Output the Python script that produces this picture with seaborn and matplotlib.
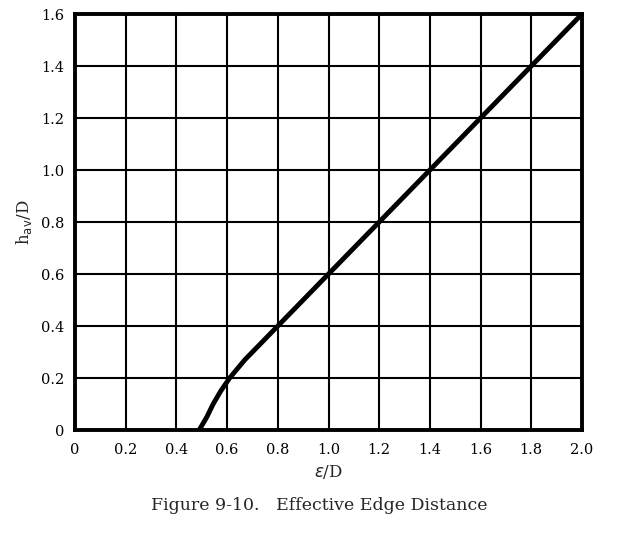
import matplotlib
matplotlib.use("Agg")
import matplotlib.pyplot as plt
import seaborn as sns
import pandas as pd

# Data
e_over_d = [0.49, 0.505, 0.52, 0.545, 0.575, 0.61, 0.64, 0.67, 0.70, 0.80, 1.00, 1.40, 2.00]
hav_over_d = [0.00, 0.025, 0.05, 0.10, 0.15, 0.20, 0.235, 0.27, 0.30, 0.40, 0.60, 1.00, 1.60]

x_ticks = [0, 0.2, 0.4, 0.6, 0.8, 1.0, 1.2, 1.4, 1.6, 1.8, 2.0]
x_tick_labels = ["0", "0.2", "0.4", "0.6", "0.8", "1.0", "1.2", "1.4", "1.6", "1.8", "2.0"]
y_ticks = [0, 0.2, 0.4, 0.6, 0.8, 1.0, 1.2, 1.4, 1.6]
y_tick_labels = ["0", "0.2", "0.4", "0.6", "0.8", "1.0", "1.2", "1.4", "1.6"]

sns.set_style("white")
plt.rcParams["font.family"] = ["DejaVu Serif"]

df = pd.DataFrame({"e": e_over_d, "h": hav_over_d})

fig = plt.figure(figsize=(6.29, 5.37), dpi=100)
ax = fig.add_axes([75/629, 1 - 430/537, (582-75)/629, (430-14)/537])

sns.lineplot(data=df, x="e", y="h", ax=ax, color="black", linewidth=3.5,
             sort=False, estimator=None, zorder=5)

ax.set_xlim(0, 2.0)
ax.set_ylim(0, 1.6)
ax.set_xticks(x_ticks)
ax.set_xticklabels(x_tick_labels)
ax.set_yticks(y_ticks)
ax.set_yticklabels(y_tick_labels)
ax.grid(True, color="black", linewidth=1.5)
ax.set_axisbelow(True)
for s in ax.spines.values():
    s.set_visible(True)
    s.set_color("black")
    s.set_linewidth(2.8)
ax.tick_params(axis="both", length=0, labelsize=10.5, colors="black")
ax.tick_params(axis="x", pad=9)
ax.tick_params(axis="y", pad=8)

ax.set_xlabel(r"$\epsilon$/D", fontsize=12, labelpad=5)
ax.set_ylabel(r"h$_{\mathrm{av}}$/D", fontsize=12, labelpad=5)

fig.text(319/629, 1 - 505/537, "Figure 9-10.   Effective Edge Distance",
         ha="center", va="center", fontsize=12.5)

fig.savefig("out.png", dpi=100, facecolor="white")
